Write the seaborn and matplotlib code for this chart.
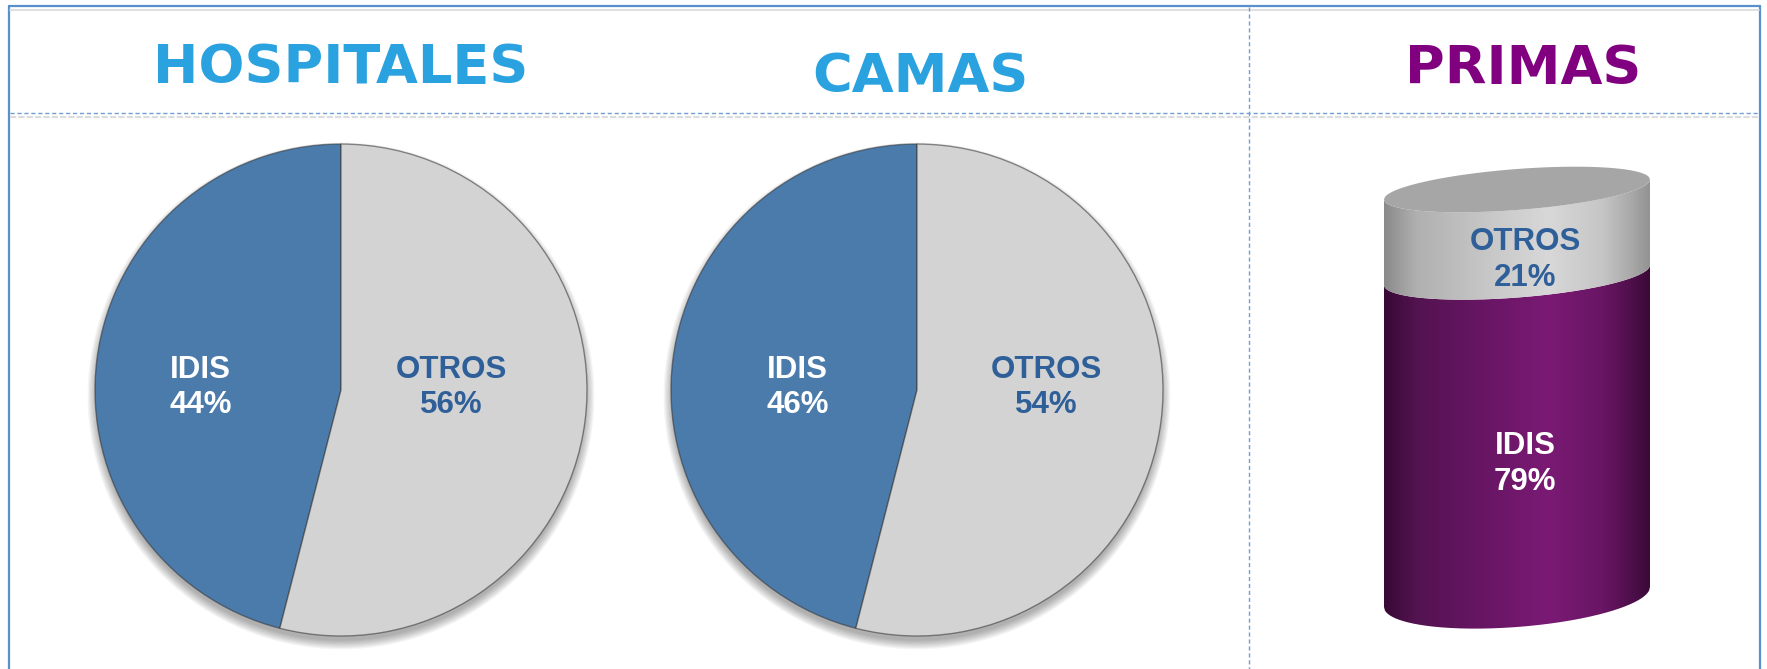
import numpy as np
import matplotlib
matplotlib.use("Agg")
import matplotlib.pyplot as plt
from matplotlib.patches import Circle, PathPatch
from matplotlib.path import Path
from matplotlib.colors import LinearSegmentedColormap
import seaborn as sns

# ---------------- data ----------------
pie_titles = ["HOSPITALES", "CAMAS"]
pie_categories = ["IDIS", "OTROS"]
# wedge sizes as drawn in the picture
hospitales = [46, 54]
camas = [46, 54]
# percentage labels as printed in the picture
hospitales_labels = ["44%", "56%"]
camas_labels = ["46%", "54%"]
cyl_title = "PRIMAS"
cyl_categories = ["IDIS", "OTROS"]
primas = [79, 21]
primas_labels = ["79%", "21%"]

# ---------------- style ----------------
sns.set_theme(style="white")
plt.rcParams["font.family"] = ["DejaVu Sans"]

W, H = 1767, 669
fig = plt.figure(figsize=(W / 100, H / 100), dpi=100)
fig.patch.set_facecolor("white")

BLUE = "#4a7bab"
GREY = "#d3d3d3"
TXT_BLUE = "#2f5f98"
TITLE_BLUE = "#2aa2df"
TITLE_PURPLE = "#800080"
BORDER = "#5b8fcb"

# ---------------- frame / grid lines ----------------
bg = fig.add_axes([0, 0, 1, 1])
bg.set_xlim(0, W)
bg.set_ylim(H, 0)
bg.axis("off")
bg.plot([9, 9], [6, H], color=BORDER, lw=1.6)
bg.plot([9, 1760], [6, 6], color=BORDER, lw=1.6)
bg.plot([1760, 1760], [6, H], color=BORDER, lw=1.6)
bg.plot([10, 1759], [10, 10], color="#d9d9d9", lw=1.2)
bg.plot([10, 1759], [113, 113], color="#6f9fd6", lw=1.0, ls=(0, (3, 2)))
bg.plot([10, 1759], [116.5, 116.5], color="#dcdcdc", lw=1.5, ls=(0, (3, 1)))
bg.plot([1249, 1249], [7, H], color="#6f9fd6", lw=1.0, ls=(0, (3, 2)))

title_font = dict(family="DejaVu Sans", weight="bold", size=39, ha="center", va="center")
bg.text(341, 68, pie_titles[0], color=TITLE_BLUE, **title_font)
bg.text(920, 77, pie_titles[1], color=TITLE_BLUE, **title_font)
bg.text(1523, 69, cyl_title, color=TITLE_PURPLE, **title_font)

label_font = dict(family="Liberation Sans", weight="bold", size=22.5,
                  ha="center", va="center", linespacing=1.25)

# ---------------- pies ----------------
R = 246.0
PAD = 270.0
pie_specs = [
    (341, 390, hospitales, hospitales_labels, (-0.57, 0.45)),
    (917, 390, camas, camas_labels, (-0.485, 0.525)),
]
for cx, cy, vals, labs, lx in pie_specs:
    ax = fig.add_axes([(cx - PAD) / W, (H - cy - PAD) / H, 2 * PAD / W, 2 * PAD / H])
    # soft shadow (mostly below)
    for j in range(8):
        ax.add_patch(Circle((0.0, -0.024), 0.995 + 0.005 * j, color="black",
                            alpha=0.045, lw=0, zorder=0))
    wedges, _ = ax.pie(vals, colors=[BLUE, GREY], startangle=90, counterclock=True,
                       radius=1.0,
                       wedgeprops=dict(edgecolor=(0.2, 0.2, 0.2, 0.55), linewidth=1.0))
    for w in wedges:
        w.set_zorder(2)
    ax.set_xlim(-PAD / R, PAD / R)
    ax.set_ylim(-PAD / R, PAD / R)
    ax.set_aspect("equal")
    ax.axis("off")
    for k, (cat, lab) in enumerate(zip(pie_categories, labs)):
        ax.text(lx[k], 0.01, f"{cat}\n{lab}",
                color="white" if k == 0 else TXT_BLUE, zorder=5, **label_font)

# ---------------- cylinder ----------------
PX = 100.0 / 407.5          # data units per pixel (vertical)
axc = fig.add_axes([1300 / W, (H - 660) / H, 433 / W, 510 / H])
totals = np.cumsum(primas)
# stacked bars: cumulative totals, tallest first
for tot, col in sorted(zip(totals, ["#6e1769", "#c8c8c8"]), key=lambda t: -t[0]):
    sns.barplot(x=[cyl_title], y=[tot], color=col, width=1.0, ax=axc,
                saturation=1, errorbar=None)
bars = list(axc.patches)
x0 = min(p.get_x() for p in bars)
bw = max(p.get_width() for p in bars)
for p in bars:
    p.set_visible(False)
xc = x0 + bw / 2

levels = np.concatenate([[0], totals])
k_shear = 10.0 * PX            # right side higher
b_top, b_bot = 20.5 * PX, 30.0 * PX   # ellipse half heights (perspective)
xs = np.linspace(x0, x0 + bw, 300)
u = (xs - xc) / (bw / 2)
root = np.sqrt(np.clip(1 - u ** 2, 0, 1))


def bsize(L):
    return b_bot + (b_top - b_bot) * L / levels[-1]


def lower(L):
    return L + k_shear * u - bsize(L) * root


def upper(L):
    return L + k_shear * u + bsize(L) * root


cmaps = [
    LinearSegmentedColormap.from_list("pur", [(0, "#380836"), (0.12, "#531350"),
                                              (0.4, "#6a1666"), (0.62, "#7a1a74"),
                                              (0.82, "#691664"), (0.94, "#4c0f49"),
                                              (1, "#3a0938")]),
    LinearSegmentedColormap.from_list("gry", [(0, "#8a8a8a"), (0.12, "#b0b0b0"),
                                              (0.4, "#c8c8c8"), (0.62, "#d8d8d8"),
                                              (0.82, "#c6c6c6"), (0.94, "#a6a6a6"),
                                              (1, "#939393")]),
]
grad = np.linspace(0, 1, 512)[None, :]
for i in range(len(primas)):
    ylo, yhi = lower(levels[i]), lower(levels[i + 1])
    vx = np.concatenate([xs, xs[::-1]])
    vy = np.concatenate([ylo, yhi[::-1]])
    path = Path(np.column_stack([vx, vy]))
    patch = PathPatch(path, facecolor="none", edgecolor="none")
    axc.add_patch(patch)
    im = axc.imshow(grad, extent=[x0, x0 + bw, ylo.min() - 1, yhi.max() + 1],
                    cmap=cmaps[i], aspect="auto", interpolation="bicubic", zorder=2)
    im.set_clip_path(patch)

# top face
top = levels[-1]
vx = np.concatenate([xs, xs[::-1]])
vy = np.concatenate([lower(top), upper(top)[::-1]])
axc.fill(vx, vy, color="#a6a6a6", lw=0, zorder=3)

axc.set_xlim(-0.5 - 84 / 266, 0.5 + 83 / 266)
axc.set_ylim(-(660 - 597) * PX, 100 + (189.5 - 150) * PX)
axc.axis("off")

for i, cat in enumerate(cyl_categories):
    mid = (levels[i] + levels[i + 1]) / 2 - 6.8
    axc.text(xc + 0.03, mid, f"{cat}\n{primas_labels[i]}",
             color="white" if i == 0 else TXT_BLUE, zorder=6, **label_font)

fig.savefig("out.png", dpi=100, facecolor="white")
